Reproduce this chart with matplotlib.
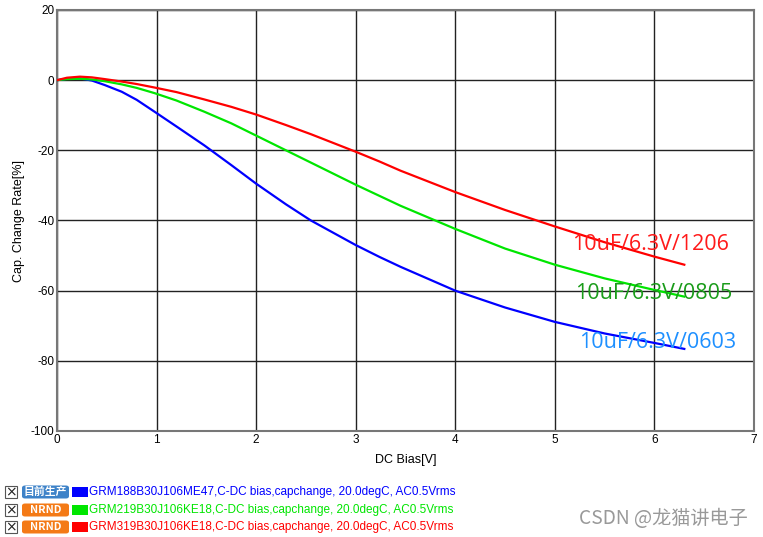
import matplotlib.pyplot as plt
from matplotlib.patches import Rectangle, FancyBboxPatch

# values
bias = [0, 0.1, 0.23, 0.35, 0.48, 0.65, 0.8, 0.98, 1.2, 1.48, 1.75, 2.0, 2.3, 2.55,
        3.0, 3.24, 3.45, 4.0, 4.5, 5.0, 5.5, 6.0, 6.3]
cap_0603 = [0, 0.4, 0.5, -0.1, -1.4, -3.3, -5.6, -9.0, -13.2, -18.6, -24.2, -29.5, -35.4, -40.0,
            -47.0, -50.4, -53.2, -60.0, -64.8, -68.9, -72.2, -74.9, -76.6]
cap_0805 = [0, 0.3, 0.4, 0.2, -0.3, -1.2, -2.2, -3.7, -5.8, -9.0, -12.3, -15.8, -20.0, -23.5,
            -29.8, -33.0, -35.8, -42.4, -48.0, -52.6, -56.5, -59.8, -61.7]
cap_1206 = [0, 0.7, 1.0, 0.8, 0.3, -0.4, -1.1, -2.1, -3.4, -5.5, -7.6, -9.8, -12.8, -15.4,
            -20.4, -23.2, -25.8, -31.9, -37.0, -41.7, -46.2, -50.3, -52.6]

series_labels = ["GRM188B30J106ME47,C-DC bias,capchange, 20.0degC, AC0.5Vrms",
                 "GRM219B30J106KE18,C-DC bias,capchange, 20.0degC, AC0.5Vrms",
                 "GRM319B30J106KE18,C-DC bias,capchange, 20.0degC, AC0.5Vrms"]
badges = ["目前生产", "NRND", "NRND"]
annotations = ["10uF/6.3V/0603", "10uF/6.3V/0805", "10uF/6.3V/1206"]

plt.rcParams['font.family'] = ['Noto Sans CJK SC', 'DejaVu Sans']
plt.rcParams['axes.unicode_minus'] = False

fig = plt.figure(figsize=(7.63, 5.37), dpi=100)
ax = fig.add_axes([57 / 763, 106 / 537, 697 / 763, 421 / 537])

colors = ['#0000ff', '#00e600', '#ff0000']
for ys, c in zip([cap_0603, cap_0805, cap_1206], colors):
    ax.plot(bias, ys, color=c, lw=1.6, zorder=3, solid_joinstyle='round')

ax.set_xlim(0, 7)
ax.set_ylim(-100, 20)
ax.set_xticks(range(0, 8))
ax.set_yticks(range(-100, 21, 20))
ax.grid(True, color='#222222', lw=1)
ax.tick_params(length=0, labelsize=8.5, pad=2)
for s in ax.spines.values():
    s.set_color('#777777')
    s.set_linewidth(1.5)
ax.set_xlabel("DC Bias[V]", fontsize=9, family='Liberation Sans', labelpad=6)
ax.set_ylabel("Cap. Change Rate[%]", fontsize=9, family='Liberation Sans', labelpad=4)
for lab in ax.get_xticklabels() + ax.get_yticklabels():
    lab.set_family('Liberation Sans')

ann_pos = [(5.24, -74.9), (5.2, -60.7), (5.17, -46.7)]
ann_colors = ['#1e90ff', '#1a9c1a', '#ff1a1a']
for t, (x, y), c in zip(annotations, ann_pos, ann_colors):
    ax.text(x, y, t, color=c, fontsize=15.5, va='center', ha='left',
            family='Open Sans', zorder=4)

# legend rows at the bottom
row_y = [492, 510, 527]
badge_colors = ['#3d82c8', '#f47a16', '#f47a16']
for i, yp in enumerate(row_y):
    yf = 1 - yp / 537
    fig.patches.append(Rectangle((5 / 763, yf - 6 / 537), 12 / 763, 12 / 537,
                                 transform=fig.transFigure, fill=False,
                                 edgecolor='#555555', lw=0.8))
    fig.text(11 / 763, yf, "×", ha='center', va='center', fontsize=10,
             color='#222222', family='DejaVu Sans')
    fig.patches.append(FancyBboxPatch((22 / 763, yf - 6.5 / 537), 47 / 763, 13 / 537,
                                      boxstyle="round,pad=0,rounding_size=0.004",
                                      transform=fig.transFigure,
                                      facecolor=badge_colors[i], edgecolor='none'))
    fig.text(45.5 / 763, yf, badges[i], ha='center', va='center', fontsize=7.8,
             color='white', weight='bold')
    fig.patches.append(Rectangle((72 / 763, yf - 5 / 537), 16 / 763, 10 / 537,
                                 transform=fig.transFigure, facecolor=colors[i],
                                 edgecolor='none'))
    fig.text(89 / 763, yf, series_labels[i], ha='left', va='center', fontsize=8.5,
             color=colors[i], family='Liberation Sans')

fig.text(748 / 763, 1 - 518 / 537, "CSDN @龙猫讲电子", ha='right', va='center',
         fontsize=13.8, color='#999999')

fig.savefig("out.png", dpi=100)
